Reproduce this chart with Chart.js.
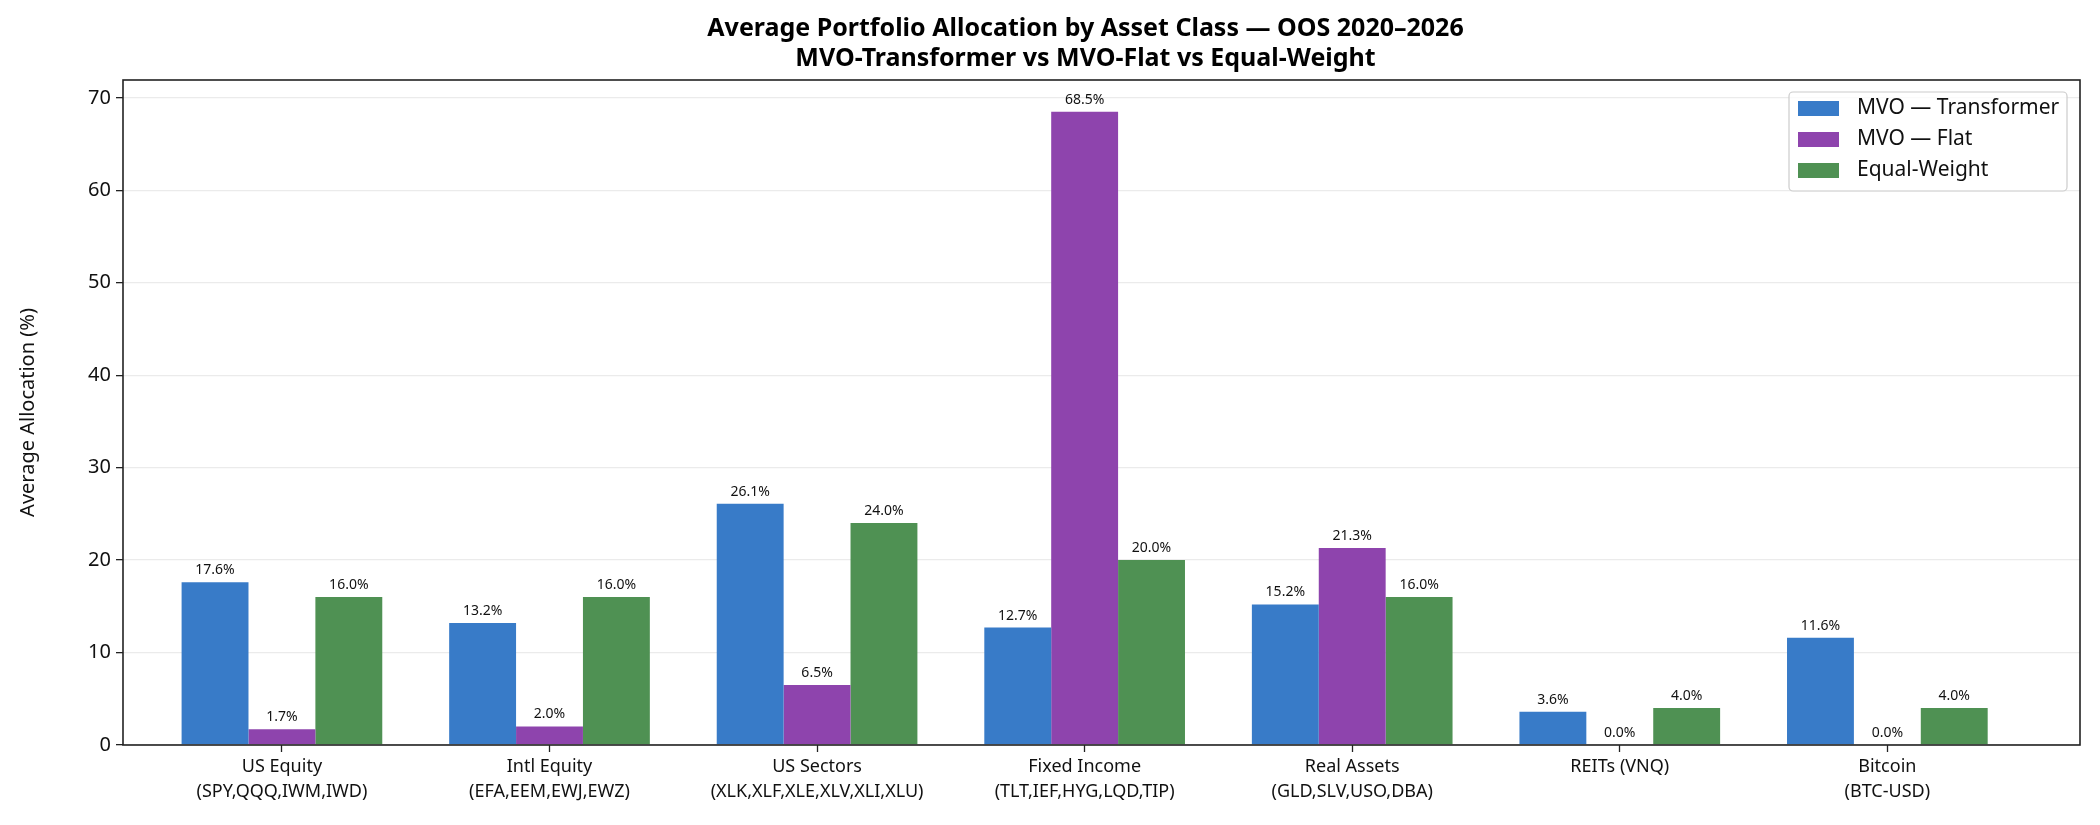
<!DOCTYPE html>
<html>
<head>
<meta charset="utf-8">
<script src="https://cdn.jsdelivr.net/npm/chart.js@4.4.1/dist/chart.umd.min.js"></script>
<style>
  html, body { margin: 0; padding: 0; background: #fff; }
  #wrap { width: 2100px; height: 825px; }
</style>
</head>
<body>
<div id="wrap"><canvas id="allocChart" width="2100" height="825"></canvas></div>
<script>
const categories = ["US Equity", "Intl Equity", "US Sectors", "Fixed Income", "Real Assets", "REITs (VNQ)", "Bitcoin"];
const tickers = ["(SPY,QQQ,IWM,IWD)", "(EFA,EEM,EWJ,EWZ)", "(XLK,XLF,XLE,XLV,XLI,XLU)", "(TLT,IEF,HYG,LQD,TIP)", "(GLD,SLV,USO,DBA)", "", "(BTC-USD)"];

const transformer = [17.6, 13.2, 26.1, 12.7, 15.2, 3.6, 11.6];
const flat        = [1.7, 2.0, 6.5, 68.5, 21.3, 0.0, 0.0];
const equalWeight = [16.0, 16.0, 24.0, 20.0, 16.0, 4.0, 4.0];

const yTicks = [0, 10, 20, 30, 40, 50, 60, 70];

const titleLines = [
  "Average Portfolio Allocation by Asset Class \u2014 OOS 2020\u20132026",
  "MVO-Transformer vs MVO-Flat vs Equal-Weight"
];

const FONT = "'Noto Sans', 'DejaVu Sans', sans-serif";
const INK = "#222222";

function toPoints(arr) {
  return arr.map((v, i) => ({ x: i, y: v }));
}

// figure title, centred a little left of the axes centre like the original
const titlePlugin = {
  id: "figTitle",
  afterDraw(chart) {
    const c = chart.ctx;
    const a = chart.chartArea;
    const cx = (a.left + a.right) / 2 - 16;
    c.save();
    c.fillStyle = "#000";
    c.font = "bold 25px " + FONT;
    c.textAlign = "center";
    c.textBaseline = "middle";
    c.fillText(titleLines[0], cx, a.top - 51);
    c.fillText(titleLines[1], cx, a.top - 21);
    c.restore();
  }
};

// value labels above each bar
const valueLabels = {
  id: "valueLabels",
  afterDatasetsDraw(chart) {
    const c = chart.ctx;
    c.save();
    c.fillStyle = "#111";
    c.font = "14px " + FONT;
    c.textAlign = "center";
    c.textBaseline = "bottom";
    chart.data.datasets.forEach((ds, i) => {
      chart.getDatasetMeta(i).data.forEach((bar, j) => {
        c.fillText(ds.data[j].y.toFixed(1) + "%", bar.x, bar.y - 5);
      });
    });
    c.restore();
  }
};

// axes frame (all four spines)
const framePlugin = {
  id: "frame",
  afterDraw(chart) {
    const a = chart.chartArea;
    const c = chart.ctx;
    c.save();
    c.strokeStyle = INK;
    c.lineWidth = 1.6;
    c.strokeRect(a.left, a.top, a.right - a.left, a.bottom - a.top);
    c.restore();
  }
};

// legend box in the upper right corner of the axes
const legendBox = {
  id: "legendBox",
  afterDraw(chart) {
    const a = chart.chartArea;
    const c = chart.ctx;
    const w = 278, h = 99;
    const x = a.right - 13 - w, y = a.top + 12;
    c.save();
    c.fillStyle = "rgba(255,255,255,0.8)";
    c.strokeStyle = "#cccccc";
    c.lineWidth = 1.2;
    c.beginPath();
    c.roundRect(x, y, w, h, 4);
    c.fill();
    c.stroke();
    c.font = "21px " + FONT;
    c.textBaseline = "middle";
    c.textAlign = "left";
    chart.data.datasets.forEach((ds, i) => {
      const ry = y + 16 + i * 31;
      c.fillStyle = ds.backgroundColor;
      c.fillRect(x + 9, ry - 7, 41, 15);
      c.fillStyle = "#111";
      c.fillText(ds.label, x + 68, ry);
    });
    c.restore();
  }
};

const barStyle = { borderWidth: 0, categoryPercentage: 0.75, barPercentage: 1.0 };

const chart = new Chart(document.getElementById("allocChart"), {
  type: "bar",
  data: {
    datasets: [
      { label: "MVO \u2014 Transformer", data: toPoints(transformer), backgroundColor: "#387bc8", ...barStyle },
      { label: "MVO \u2014 Flat", data: toPoints(flat), backgroundColor: "#8e44ad", ...barStyle },
      { label: "Equal-Weight", data: toPoints(equalWeight), backgroundColor: "#4f9153", ...barStyle }
    ]
  },
  options: {
    responsive: false,
    devicePixelRatio: 1,
    animation: false,
    layout: { padding: { top: 80, right: 20, left: 0, bottom: 0 } },
    plugins: {
      legend: { display: false },
      title: { display: false },
      tooltip: { enabled: false }
    },
    scales: {
      x: {
        type: "linear",
        min: -0.594,
        max: 6.72,
        offset: false,
        z: 1,
        border: { display: false },
        grid: {
          offset: false,
          drawOnChartArea: false,
          tickLength: 7,
          tickColor: INK,
          tickWidth: 1.3
        },
        afterBuildTicks(scale) {
          scale.ticks = categories.map((_, i) => ({ value: i }));
        },
        afterFit(scale) { scale.height = 80; },
        ticks: {
          autoSkip: false,
          maxRotation: 0,
          padding: 3,
          color: "#111",
          font: { family: FONT, size: 18, lineHeight: 1.35 },
          callback(value) {
            const i = Math.round(value);
            return tickers[i] ? [categories[i], tickers[i]] : categories[i];
          }
        }
      },
      y: {
        min: 0,
        max: 71.925,
        z: 1,
        border: { display: false },
        grid: {
          color: "rgba(176,176,176,0.25)",
          lineWidth: 1.3,
          tickLength: 7,
          tickColor: INK,
          tickWidth: 1.3
        },
        afterBuildTicks(scale) {
          scale.ticks = yTicks.map(v => ({ value: v }));
        },
        afterFit(scale) { scale.width = 123; },
        title: {
          display: true,
          text: "Average Allocation (%)",
          color: "#111",
          font: { family: FONT, size: 20 },
          padding: { top: 16, bottom: 0 }
        },
        ticks: {
          padding: 5,
          color: "#111",
          font: { family: FONT, size: 20 }
        }
      }
    }
  },
  plugins: [valueLabels, framePlugin, legendBox, titlePlugin]
});
</script>
</body>
</html>
